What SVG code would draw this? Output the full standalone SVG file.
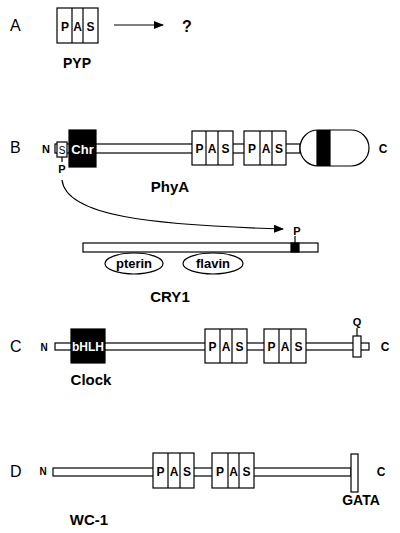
<svg xmlns="http://www.w3.org/2000/svg" width="400" height="533" viewBox="0 0 400 533">
<defs>
<style>
.o{fill:#fff;stroke:#000;stroke-width:1.2}
.k{fill:#000;stroke:#000;stroke-width:1.2}
.l{stroke:#000;stroke-width:1.2;fill:none}
text{font-family:"Liberation Sans",Arial,sans-serif;fill:#000}
.pl{font-size:16px}
.b{font-weight:bold}
.pas{font-weight:bold;font-size:12px;text-anchor:middle}
.nm{font-weight:bold;font-size:15px;text-anchor:middle}
.sm{font-weight:bold;font-size:11px;text-anchor:middle}
.w{fill:#fff}
</style>
<marker id="ah" markerWidth="10" markerHeight="8" refX="9" refY="4" orient="auto" markerUnits="userSpaceOnUse">
<path d="M0,0 L10,4 L0,8 Z" fill="#000"/>
</marker>
</defs>
<rect width="400" height="533" fill="#fff"/>

<!-- Panel A -->
<g id="panelA">
<text class="pl" x="10" y="31">A</text>
<g id="pyp">
<rect class="o" x="57" y="8" width="41" height="35"/>
<line class="l" x1="72" y1="8" x2="72" y2="43"/>
<line class="l" x1="83" y1="8" x2="83" y2="43"/>
<text class="pas" x="65" y="31">P</text>
<text class="pas" x="77.5" y="31">A</text>
<text class="pas" x="90.5" y="31">S</text>
<text class="nm" x="77" y="68" style="font-size:14px">PYP</text>
</g>
<text class="b" x="182" y="32" style="font-size:16px">?</text>
</g>

<!-- Panel B -->
<g id="panelB">
<text class="pl" x="10" y="153">B</text>
<text class="sm" x="46" y="153">N</text>
<g id="phyA">
<rect class="o" x="55" y="144" width="245" height="9"/>
<rect class="o" x="57" y="142" width="10" height="15"/>
<text x="62" y="153.5" text-anchor="middle" style="font-size:10px">S</text>
<line class="l" x1="62" y1="157" x2="62" y2="162"/>
<text class="sm" x="62" y="173">P</text>
<rect class="k" x="69" y="130" width="27" height="37"/>
<text class="w b" x="82.5" y="153.5" text-anchor="middle" style="font-size:13px">Chr</text>
<rect class="o" x="192" y="131" width="41" height="34"/>
<line class="l" x1="206" y1="131" x2="206" y2="165"/>
<line class="l" x1="218" y1="131" x2="218" y2="165"/>
<text class="pas" x="199.5" y="153">P</text>
<text class="pas" x="212" y="153">A</text>
<text class="pas" x="225.5" y="153">S</text>
<rect class="o" x="244" y="131" width="42" height="34"/>
<line class="l" x1="260" y1="131" x2="260" y2="165"/>
<line class="l" x1="272" y1="131" x2="272" y2="165"/>
<text class="pas" x="252" y="153">P</text>
<text class="pas" x="266" y="153">A</text>
<text class="pas" x="279" y="153">S</text>
<rect class="o" x="300" y="130" width="69" height="36" rx="18" ry="18"/>
<rect class="k" x="317" y="130.6" width="13" height="34.8"/>
<text class="sm" x="383" y="153" style="font-size:12px">C</text>
<text class="nm" x="170" y="192">PhyA</text>
</g>
</g>

<!-- CRY1 -->
<g id="cry1">
<rect class="o" x="83" y="243" width="235" height="9"/>
<rect class="k" x="291" y="243" width="8" height="9"/>
<line class="l" x1="295" y1="236" x2="295" y2="243"/>
<text class="sm" x="297" y="235">P</text>
<ellipse class="o" cx="134" cy="263.5" rx="29" ry="10.5"/>
<text x="134" y="268" text-anchor="middle" class="b" style="font-size:13px">pterin</text>
<ellipse class="o" cx="213" cy="263.5" rx="30" ry="10.5"/>
<text x="213" y="268" text-anchor="middle" class="b" style="font-size:13px">flavin</text>
<text class="nm" x="170" y="302">CRY1</text>
</g>

<!-- Panel C -->
<g id="panelC">
<text class="pl" x="10" y="352">C</text>
<text class="sm" x="44" y="351" style="font-size:10px">N</text>
<g id="clock">
<rect class="o" x="55" y="343" width="314" height="7"/>
<rect class="k" x="71" y="329" width="34" height="34"/>
<text class="w b" x="88" y="351" text-anchor="middle" style="font-size:12px">bHLH</text>
<rect class="o" x="205" y="329" width="42" height="34"/>
<line class="l" x1="220" y1="329" x2="220" y2="363"/>
<line class="l" x1="232" y1="329" x2="232" y2="363"/>
<text class="pas" x="212.5" y="351">P</text>
<text class="pas" x="226" y="351">A</text>
<text class="pas" x="239.5" y="351">S</text>
<rect class="o" x="264" y="329" width="42" height="34"/>
<line class="l" x1="279" y1="329" x2="279" y2="363"/>
<line class="l" x1="291" y1="329" x2="291" y2="363"/>
<text class="pas" x="271.5" y="351">P</text>
<text class="pas" x="285" y="351">A</text>
<text class="pas" x="298.5" y="351">S</text>
<rect class="o" x="353" y="336" width="8" height="21"/>
<line class="l" x1="357" y1="328" x2="357" y2="336"/>
<text class="sm" x="357" y="326">Q</text>
<text class="sm" x="385" y="351" style="font-size:12px">C</text>
<text class="nm" x="91" y="385">Clock</text>
</g>
</g>

<!-- Panel D -->
<g id="panelD">
<text class="pl" x="10" y="477">D</text>
<text class="sm" x="43" y="475" style="font-size:10px">N</text>
<g id="wc1">
<rect class="o" x="53" y="468" width="298" height="8"/>
<rect class="o" x="153" y="453" width="41" height="35"/>
<line class="l" x1="168" y1="453" x2="168" y2="488"/>
<line class="l" x1="180" y1="453" x2="180" y2="488"/>
<text class="pas" x="160.5" y="476">P</text>
<text class="pas" x="174" y="476">A</text>
<text class="pas" x="187" y="476">S</text>
<rect class="o" x="212" y="453" width="42" height="35"/>
<line class="l" x1="228" y1="453" x2="228" y2="488"/>
<line class="l" x1="239" y1="453" x2="239" y2="488"/>
<text class="pas" x="220" y="476">P</text>
<text class="pas" x="233.5" y="476">A</text>
<text class="pas" x="246.5" y="476">S</text>
<rect class="o" x="351" y="454" width="7" height="38"/>
<text class="sm" x="381" y="476" style="font-size:12px">C</text>
<text class="nm" x="361" y="505" style="font-size:14px">GATA</text>
<text class="nm" x="89" y="525">WC-1</text>
</g>
</g>

<!-- Connectors -->
<g id="connectors">
<line class="l" x1="114" y1="25" x2="163" y2="25" marker-end="url(#ah)"/>
<path class="l" d="M62,180 C66,216 150,225 283,229" marker-end="url(#ah)"/>
</g>
</svg>
